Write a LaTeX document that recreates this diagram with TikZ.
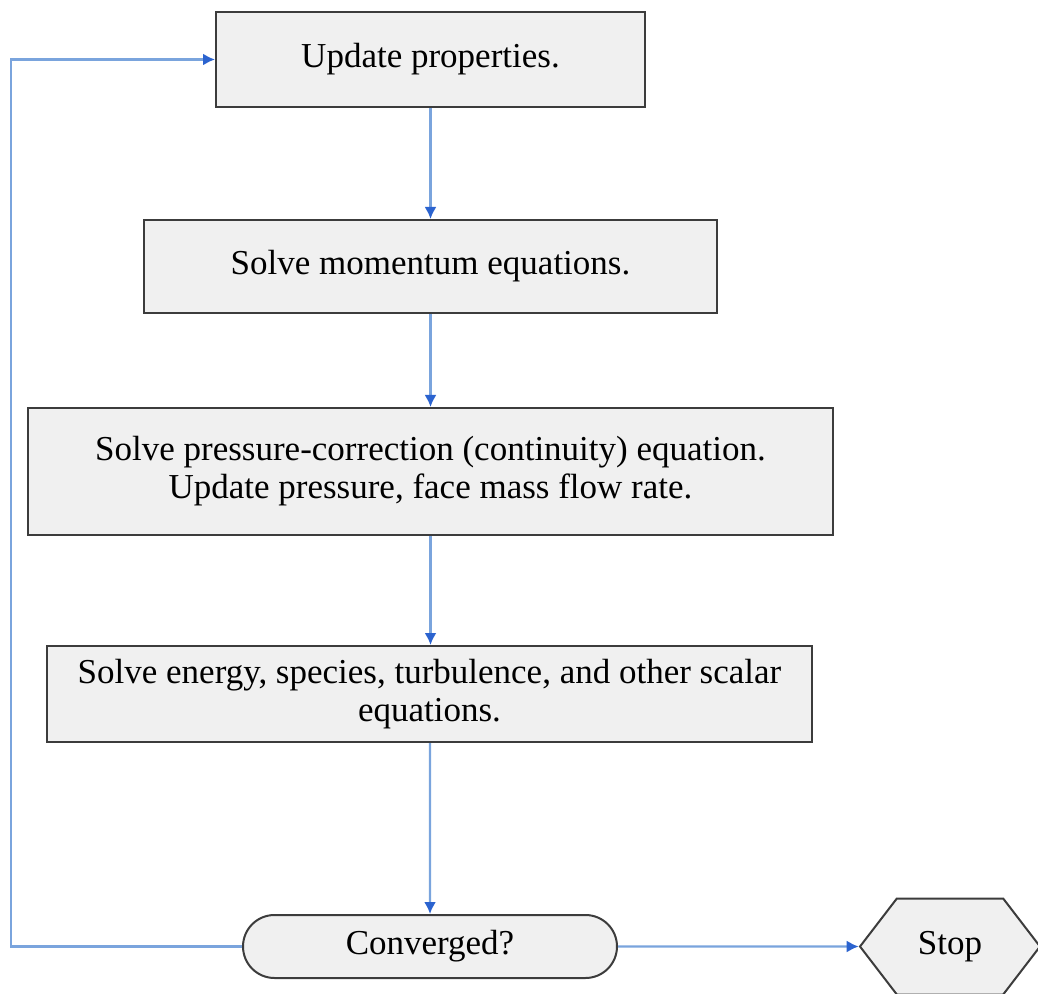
\documentclass[tikz,border=0pt]{standalone}
\usepackage{fontspec}
\setmainfont{Liberation Serif}
\usepackage{xcolor}
\usetikzlibrary{arrows.meta,shapes.misc,shapes.symbols}
\definecolor{boxfill}{HTML}{F0F0F0}
\definecolor{boxline}{HTML}{3C3C3C}
\definecolor{flowline}{HTML}{7AA4DD}
\definecolor{flowtip}{HTML}{2B63CF}

\begin{document}
\begin{tikzpicture}[x=0.5pt, y=-0.5pt,
  stepbox/.style={draw=boxline, line width=1pt, fill=boxfill, align=center, inner sep=2pt,
    font=\fontsize{17.5}{19}\selectfont},
  termbox/.style={stepbox, rounded rectangle},
  stopbox/.style={stepbox, signal, signal to=west and east, signal pointer angle=105},
  flow/.style={draw=flowline, line width=1.1pt, -{Latex[length=6pt, width=6pt, color=flowtip]}}]

\useasboundingbox (0,0) rectangle (1038,994);

% Main loop
\node[stepbox, minimum width=214.5pt, minimum height=47.5pt] (upd) at (430.5,59.5) {Update properties.};
\node[stepbox, minimum width=286.5pt, minimum height=46.5pt] (mom) at (430.5,266.5) {Solve momentum equations.};
\node[stepbox, minimum width=402.5pt, minimum height=63.5pt] (pres) at (430.5,471.5) {Solve pressure-correction (continuity) equation.\\Update pressure, face mass flow rate.};
\node[stepbox, minimum width=382.5pt, minimum height=48pt] (scal) at (429.5,694) {Solve energy, species, turbulence, and other scalar\\equations.};

% Check
\node[termbox, minimum width=191pt, minimum height=31.5pt] (conv) at (430,946.5) {Converged?};
\node[stopbox, minimum width=90pt, minimum height=48pt] (stop) at (950,946.5) {Stop};
\coordinate (back) at (11,946.5);

\draw[flow] (upd) -- (mom);
\draw[flow] (mom) -- (pres);
\draw[flow] (pres) -- (scal.north -| pres.south);
\draw[flow] (scal.south -| conv.north) -- (conv);
\draw[flow] (conv) -- (stop);
\draw[flow] (conv.west) -- (back) |- (upd.west);

\end{tikzpicture}
\end{document}
